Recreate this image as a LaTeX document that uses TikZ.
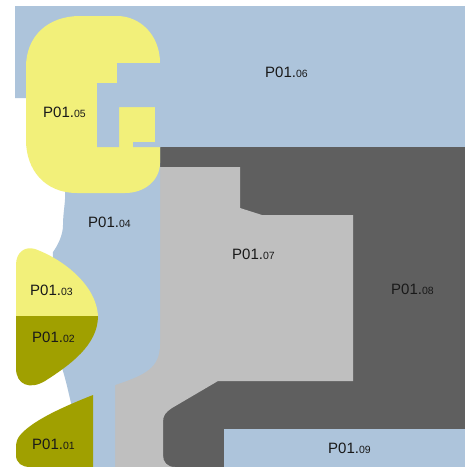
\documentclass[tikz,border=0pt]{standalone}
\usepackage{fontspec}
\setmainfont{Liberation Sans}
\definecolor{pblue}{RGB}{173,196,219}
\definecolor{pyellow}{RGB}{242,240,122}
\definecolor{polive}{RGB}{160,160,0}
\definecolor{pdark}{RGB}{95,95,95}
\definecolor{plight}{RGB}{191,191,191}
\definecolor{labc}{RGB}{25,25,25}
\newcommand\smallnum[1]{{\fontsize{10.5}{10.5}\selectfont #1}}
\begin{document}
\begin{tikzpicture}[x=1pt,y=-1pt,
  lab/.style={font=\fontsize{15}{15}\selectfont, text=labc, inner sep=0pt, anchor=base west}]
\useasboundingbox (0,0) rectangle (465,467);
\fill[white] (0,0) rectangle (465,467);
% P01.06
\fill[pblue] (15,6) -- (465,6) -- (465,147) -- (60,147) -- (60,98) -- (15,98) -- cycle;
% P01.08
\fill[pdark] (160,147) rectangle (465,467);
% P01.07
\fill[plight] (160,167) -- (240,167) -- (240,208) -- (262,215) -- (353,215) -- (353,381) -- (218,381) -- (172,408)
  .. controls (166,412) and (163,415) .. (163,422) -- (163,455)
  .. controls (163,462) and (167,467) .. (175,467) -- (115,467) -- (115,300) -- (160,300) -- cycle;
% P01.09
\fill[pblue] (224,429) rectangle (465,467);
% P01.04
\fill[pblue] (60,150) -- (160,147) -- (160,344) .. controls (160,368) and (145,375) .. (115,385)
  -- (115,467) -- (93,467) -- (93,395) -- (72,407)
  .. controls (69,395) and (66,380) .. (62,368) -- (50,320) -- (53,252)
  .. controls (58,245) and (63,235) .. (63,225) .. controls (63,212) and (66,200) .. (65,190) -- cycle;
% P01.05
\fill[pyellow] (26,67) .. controls (26,36) and (48,16) .. (80,16) -- (117,16)
  .. controls (140,16) and (160,35) .. (160,63) -- (160,163)
  .. controls (160,180) and (145,193) .. (125,193) -- (77,193)
  .. controls (45,193) and (26,170) .. (26,140) -- cycle;
\fill[pblue] (161,63) -- (117,63) -- (117,83) -- (97,83) -- (97,147) -- (119,147) -- (119,107)
  -- (155,107) -- (155,142) -- (133,142) -- (133,147) -- (161,147) -- cycle;
% P01.03
\fill[pyellow] (16,316) -- (16,265) .. controls (16,252) and (25,246) .. (35,249)
  .. controls (60,258) and (96,283) .. (98,316) -- cycle;
% P01.02
\fill[polive] (16,316) -- (98,316) .. controls (98,345) and (70,365) .. (45,381)
  .. controls (30,390) and (16,385) .. (16,368) -- cycle;
% P01.01
\fill[polive] (93,395) .. controls (60,408) and (35,420) .. (22,433)
  .. controls (17,438) and (16,442) .. (16,448) -- (16,455)
  .. controls (16,463) and (22,467) .. (30,467) -- (93,467) -- cycle;
% labels
\node[lab] (l05) at (43,117) {P01.\smallnum{05}};
\node[lab] (l06) at (265,77) {P01.\smallnum{06}};
\node[lab] (l04) at (88,227) {P01.\smallnum{04}};
\node[lab] (l03) at (30,295) {P01.\smallnum{03}};
\node[lab] (l02) at (32,342) {P01.\smallnum{02}};
\node[lab] (l01) at (32,449) {P01.\smallnum{01}};
\node[lab] (l07) at (232,259) {P01.\smallnum{07}};
\node[lab] (l08) at (391,294) {P01.\smallnum{08}};
\node[lab] (l09) at (328,453) {P01.\smallnum{09}};
\end{tikzpicture}
\end{document}
